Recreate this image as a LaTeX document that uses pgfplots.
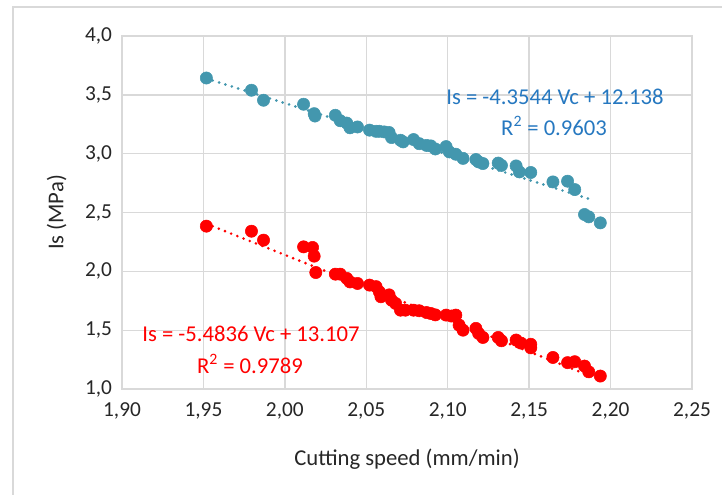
\documentclass[border=0pt]{standalone}
\usepackage{pgfplots}
\pgfplotsset{compat=1.18}
\usepackage{fontspec}
\setmainfont{Carlito}
\definecolor{tealm}{RGB}{67,151,174}
\definecolor{eqblue}{RGB}{38,120,192}
\definecolor{gridg}{RGB}{217,217,217}
\begin{document}
\begin{tikzpicture}
\begin{axis}[
  at={(91.5pt,78.75pt)}, anchor=south west,
  scale only axis, width=427.5pt, height=264.75pt,
  xmin=1.90, xmax=2.25, ymin=1.0, ymax=4.0,
  xtick={1.90,1.95,2.00,2.05,2.10,2.15,2.20,2.25},
  ytick={1.0,1.5,2.0,2.5,3.0,3.5,4.0},
  grid=major, major grid style={gridg, line width=1pt},
  axis line style={gridg, line width=1pt},
  tick style={draw=none},
  /pgf/number format/assume math mode=true,
  xticklabel style={/pgf/number format/fixed, /pgf/number format/fixed zerofill, /pgf/number format/precision=2, /pgf/number format/use comma, yshift=-7pt},
  yticklabel style={/pgf/number format/fixed, /pgf/number format/fixed zerofill, /pgf/number format/precision=1, /pgf/number format/use comma, xshift=-4pt},
  ticklabel style={font=\fontsize{16}{18}\selectfont, text=black!85},
  xlabel={Cutting speed (mm/min)},
  ylabel={Is (MPa)},
  label style={font=\fontsize{17}{19}\selectfont, text=black!85},
  xlabel style={yshift=-15pt},
  ylabel style={yshift=7pt},
  clip=false,
]
% blue trendline
\addplot[tealm, line width=2.2pt, line cap=round, dash pattern=on 0pt off 5pt] coordinates {(1.9518,3.639) (2.190,2.602)};
% red trendline
\addplot[red, line width=2.2pt, line cap=round, dash pattern=on 0pt off 5pt] coordinates {(1.9518,2.404) (2.190,1.098)};
% blue data
\addplot[only marks, mark=*, mark size=4.6pt, mark options={draw=tealm, fill=tealm}] coordinates {
(1.9518,3.643) (1.9795,3.539) (1.9869,3.454) (2.0115,3.420) (2.018,3.34) (2.0185,3.32)
(2.031,3.326) (2.034,3.28) (2.038,3.26) (2.040,3.22) (2.0446,3.227) (2.052,3.20)
(2.056,3.19) (2.058,3.19) (2.061,3.185) (2.064,3.18) (2.0655,3.137) (2.071,3.114)
(2.0726,3.10) (2.079,3.12) (2.0825,3.085) (2.087,3.07) (2.0896,3.066) (2.0924,3.04)
(2.099,3.06) (2.101,3.015) (2.105,2.995) (2.1094,2.96) (2.1173,2.95) (2.119,2.93)
(2.1216,2.916) (2.131,2.92) (2.133,2.90) (2.142,2.896) (2.144,2.845) (2.151,2.84)
(2.1646,2.76) (2.1736,2.766) (2.178,2.695) (2.184,2.483) (2.1866,2.463) (2.1937,2.412)
};
% red data
\addplot[only marks, mark=*, mark size=4.6pt, mark options={draw=red, fill=red}] coordinates {
(1.9518,2.384) (1.9795,2.341) (1.9869,2.265) (2.0115,2.208) (2.017,2.203) (2.018,2.129)
(2.019,1.99) (2.031,1.976) (2.034,1.976) (2.038,1.94) (2.040,1.91) (2.0446,1.897)
(2.052,1.883) (2.056,1.87) (2.058,1.826) (2.059,1.784) (2.064,1.80) (2.0655,1.755)
(2.068,1.727) (2.071,1.67) (2.074,1.67) (2.079,1.67) (2.0825,1.665) (2.087,1.65)
(2.0896,1.642) (2.0924,1.63) (2.099,1.628) (2.1023,1.62) (2.105,1.628) (2.107,1.543)
(2.1094,1.50) (2.1173,1.515) (2.119,1.472) (2.1216,1.438) (2.131,1.438) (2.133,1.41)
(2.142,1.416) (2.145,1.39) (2.151,1.38) (2.151,1.35) (2.1646,1.268) (2.1736,1.224)
(2.178,1.232) (2.184,1.195) (2.1866,1.146) (2.1937,1.11)
};
\node[text=eqblue, font=\fontsize{17}{19}\selectfont] at (axis cs:2.1659,3.482) {Is = -4.3544 Vc + 12.138};
\node[text=eqblue, font=\fontsize{17}{19}\selectfont] at (axis cs:2.1653,3.235) {R\textsuperscript{2} = 0.9603};
\node[text=red, font=\fontsize{17}{19}\selectfont] at (axis cs:1.9792,1.467) {Is = -5.4836 Vc + 13.107};
\node[text=red, font=\fontsize{17}{19}\selectfont] at (axis cs:1.9786,1.213) {R\textsuperscript{2} = 0.9789};
\end{axis}
\draw[gridg, line width=1.2pt] (9.75pt,-5pt) -- (9.75pt,365.25pt) -- (550pt,365.25pt);
\pgfresetboundingbox
\useasboundingbox (0,0) rectangle (541.5pt,370.5pt);
\end{tikzpicture}
\end{document}
